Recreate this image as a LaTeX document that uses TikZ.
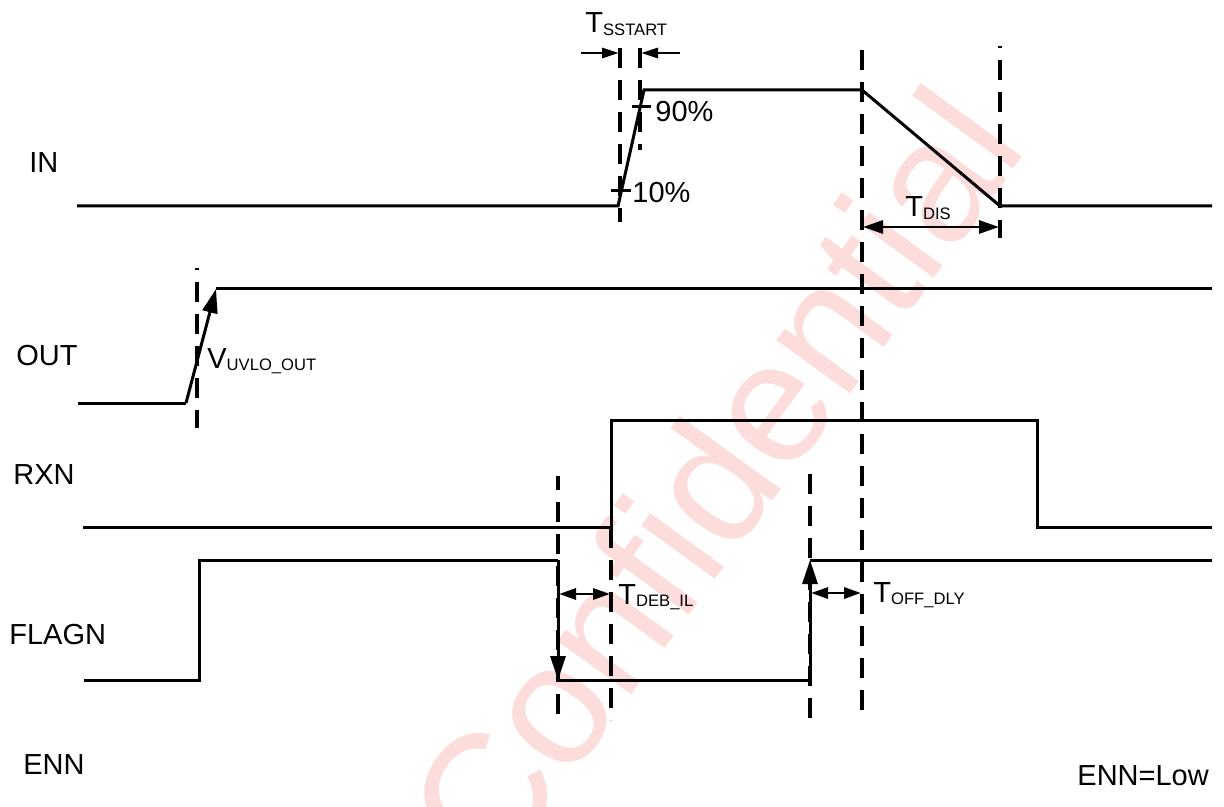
\documentclass[tikz,border=0pt]{standalone}
\usepackage{fontspec}
\setmainfont{Liberation Sans}
\usetikzlibrary{arrows.meta}
\definecolor{wm}{RGB}{253,220,220}
\newcommand{\lsub}[1]{\raisebox{-1.2pt}{\fontsize{8.3}{10}\selectfont #1}}
\begin{document}
\begin{tikzpicture}[x=0.5pt,y=-0.5pt,
  sig/.style={line width=1.5pt, line join=miter},
  dsh/.style={line width=1.55pt, dash pattern=on 10pt off 6pt},
  lbl/.style={inner sep=0pt, anchor=base west, font=\fontsize{14.5}{17}\selectfont},
  bigtip/.style={sig, -{Triangle[length=12pt,width=7.5pt]}},
  uvtip/.style={sig, -{Triangle[length=12pt,width=7.5pt]}},
  dblarr/.style={line width=1.45pt, {Triangle[length=8.5pt,width=5.5pt]}-{Triangle[length=8.5pt,width=5.5pt]}},
  dblbig/.style={line width=1.45pt, {Triangle[length=10pt,width=6.5pt]}-{Triangle[length=10pt,width=6.5pt]}},
  sarr/.style={line width=1.45pt, -{Triangle[length=8.5pt,width=5pt]}}]
\useasboundingbox (0,0) rectangle (1224,807);
% watermark
\node[rotate=54, anchor=base west, inner sep=0pt, text=wm, font=\fontsize{86}{92}\selectfont] (wmk) at (495,883) {Confidential};

% signal names
\node[lbl] (nIN) at (29,173) {IN};
\node[lbl] (nOUT) at (16,365) {OUT};
\node[lbl] (nRXN) at (13,484) {RXN};
\node[lbl] (nFLAGN) at (9,644) {FLAGN};
\node[lbl] (nENN) at (23,774) {ENN};
\node[lbl] (nENNlow) at (1077,785) {ENN=Low};

% dashed verticals
\coordinate (d1t) at (197,268); \coordinate (d1b) at (197,428);
\coordinate (d2t) at (620,48);  \coordinate (d2b) at (620,222);
\coordinate (d3t) at (640,48);  \coordinate (d3b) at (640,150);
\coordinate (d4t) at (862,50);  \coordinate (d4b) at (862,720);
\coordinate (d5t) at (1000,46); \coordinate (d5b) at (1000,238);
\coordinate (d6t) at (558,476); \coordinate (d6b) at (558,720);
\coordinate (d7t) at (611,528); \coordinate (d7b) at (611,720);
\coordinate (d8t) at (810,474); \coordinate (d8b) at (810,720);
\draw[dsh, dash phase=9pt] (d1t) -- (d1b);
\draw[dsh] (d2t) -- (d2b);
\draw[dsh] (d3t) -- (d3b);
\draw[dsh] (d4t) -- (d4b);
\draw[dsh, dash phase=9pt] (d5t) -- (d5b);
\draw[dsh, dash phase=3pt] (d6t) -- (d6b);
\draw[dsh] (d7t) -- (d7b);
\draw[dsh] (d8t) -- (d8b);

% IN
\coordinate (in0) at (77,206); \coordinate (in1) at (618,206);
\coordinate (in2) at (644,90); \coordinate (in3) at (862,90);
\coordinate (in4) at (1000,206); \coordinate (in5) at (1212,206);
\draw[sig] (in0) -- (in1) -- (in2) -- (in3) -- (in4) -- (in5);
\coordinate (t10a) at (611,191); \coordinate (t10b) at (631,191);
\coordinate (t90a) at (632,107); \coordinate (t90b) at (651,107);
\draw[sig] (t10a) -- (t10b);
\draw[sig] (t90a) -- (t90b);
\node[lbl] (p10) at (632,203) {10\%};
\node[lbl] (p90) at (655,122) {90\%};

% TSSTART
\coordinate (ss0) at (581,53); \coordinate (ss1) at (619,53);
\coordinate (ss2) at (680,53); \coordinate (ss3) at (641,53);
\draw[sarr] (ss0) -- (ss1);
\draw[sarr] (ss2) -- (ss3);
\node[lbl] (tss) at (585,33) {T\lsub{SSTART}};

% TDIS
\coordinate (dis0) at (863,227); \coordinate (dis1) at (999,227);
\draw[dblbig] (dis0) -- (dis1);
\node[lbl] (tdis) at (905,217) {T\lsub{DIS}};

% OUT
\coordinate (o0) at (78,403); \coordinate (o1) at (186,403);
\coordinate (o2) at (216,289); \coordinate (o3) at (1212,289);
\draw[sig] (o0) -- (o1);
\draw[uvtip] (o1) -- (o2);
\draw[sig] (o2) -- (o3);
\node[lbl] (vuv) at (207,368) {V\lsub{UVLO\_OUT}};

% RXN
\coordinate (r0) at (83,527); \coordinate (r1) at (611,527);
\coordinate (r2) at (611,420); \coordinate (r3) at (1037,420);
\coordinate (r4) at (1037,527); \coordinate (r5) at (1212,527);
\draw[sig] (r0) -- (r1) -- (r2) -- (r3) -- (r4) -- (r5);

% FLAGN
\coordinate (f0) at (84,680); \coordinate (f1) at (199,680);
\coordinate (f2) at (199,560); \coordinate (f3) at (558,560);
\coordinate (f4) at (558,680); \coordinate (f5) at (810,680);
\coordinate (f6) at (810,560); \coordinate (f7) at (1212,560);
\draw[sig] (f0) -- (f1) -- (f2) -- (f3);
\draw[bigtip] (f3) -- (f4);
\draw[sig] (f4) -- (f5);
\draw[bigtip] (f5) -- (f6);
\draw[sig] (f6) -- (f7);

% TDEB_IL and TOFF_DLY
\coordinate (db0) at (559,594); \coordinate (db1) at (610,594);
\draw[dblarr] (db0) -- (db1);
\node[lbl] (tdeb) at (618,604) {T\lsub{DEB\_IL}};
\coordinate (of0) at (811,593); \coordinate (of1) at (861,593);
\draw[dblarr] (of0) -- (of1);
\node[lbl] (toff) at (873,602) {T\lsub{OFF\_DLY}};
\end{tikzpicture}
\end{document}
